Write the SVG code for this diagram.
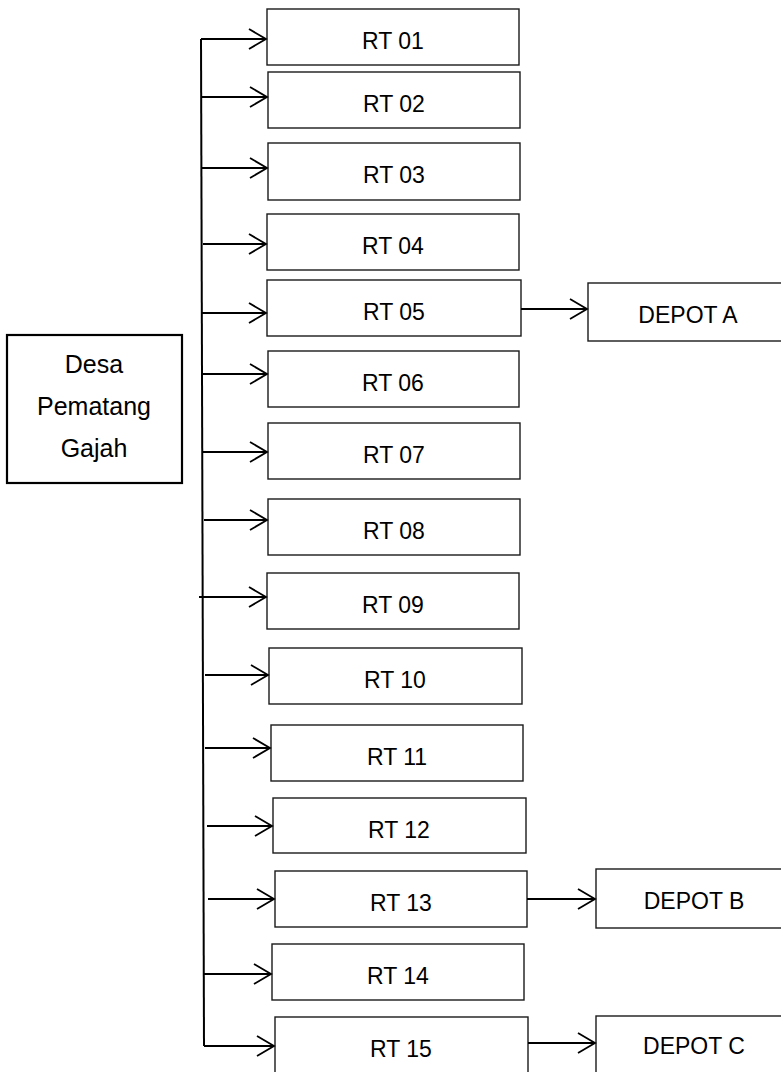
<svg xmlns="http://www.w3.org/2000/svg" width="781" height="1072" viewBox="0 0 781 1072">
<defs>
<marker id="chev" markerUnits="userSpaceOnUse" viewBox="-19 -12 21 24" refX="0" refY="0" markerWidth="21" markerHeight="24" orient="auto">
<path d="M-17,-10 L0,0 L-17,10" fill="none" stroke="#000" stroke-width="1.8"/>
</marker>
<style>
.box{fill:#fff;stroke:#1a1a1a;stroke-width:1.4}
.main{fill:#fff;stroke:#000;stroke-width:2.2}
.t{font-family:"Liberation Sans",Arial,sans-serif;font-size:23px;fill:#000;text-anchor:middle}
.tm{font-family:"Liberation Sans",Arial,sans-serif;font-size:25px;fill:#000;text-anchor:middle}
.c{stroke:#000;stroke-width:1.8;fill:none;marker-end:url(#chev)}
.trunk{stroke:#000;stroke-width:2;fill:none}
</style>
</defs>
<g id="desa">
<rect class="main" x="7" y="335" width="175" height="148"/>
<text class="tm" x="94" y="373">Desa</text>
<text class="tm" x="94" y="415">Pematang</text>
<text class="tm" x="94" y="457">Gajah</text>
</g>
<g id="rt01"><rect class="box" x="267" y="9" width="252" height="56"/><text class="t" x="393" y="49">RT 01</text></g>
<g id="rt02"><rect class="box" x="268" y="72" width="252" height="56"/><text class="t" x="394" y="112">RT 02</text></g>
<g id="rt03"><rect class="box" x="268" y="143" width="252" height="57"/><text class="t" x="394" y="183">RT 03</text></g>
<g id="rt04"><rect class="box" x="267" y="214" width="252" height="56"/><text class="t" x="393" y="254">RT 04</text></g>
<g id="rt05"><rect class="box" x="267" y="280" width="254" height="56"/><text class="t" x="394" y="320">RT 05</text></g>
<g id="rt06"><rect class="box" x="268" y="351" width="251" height="56"/><text class="t" x="393" y="391">RT 06</text></g>
<g id="rt07"><rect class="box" x="268" y="423" width="252" height="56"/><text class="t" x="394" y="463">RT 07</text></g>
<g id="rt08"><rect class="box" x="268" y="499" width="252" height="56"/><text class="t" x="394" y="539">RT 08</text></g>
<g id="rt09"><rect class="box" x="267" y="573" width="252" height="56"/><text class="t" x="393" y="613">RT 09</text></g>
<g id="rt10"><rect class="box" x="269" y="648" width="253" height="56"/><text class="t" x="395" y="688">RT 10</text></g>
<g id="rt11"><rect class="box" x="271" y="725" width="252" height="56"/><text class="t" x="397" y="765">RT 11</text></g>
<g id="rt12"><rect class="box" x="273" y="798" width="253" height="55"/><text class="t" x="399" y="838">RT 12</text></g>
<g id="rt13"><rect class="box" x="275" y="871" width="252" height="56"/><text class="t" x="401" y="911">RT 13</text></g>
<g id="rt14"><rect class="box" x="272" y="944" width="252" height="56"/><text class="t" x="398" y="984">RT 14</text></g>
<g id="rt15"><rect class="box" x="275" y="1017" width="253" height="62"/><text class="t" x="401" y="1057">RT 15</text></g>
<g id="depotA"><rect class="box" x="588" y="283" width="200" height="58"/><text class="t" x="688" y="323">DEPOT A</text></g>
<g id="depotB"><rect class="box" x="596" y="869" width="200" height="59"/><text class="t" x="694" y="909">DEPOT B</text></g>
<g id="depotC"><rect class="box" x="596" y="1016" width="200" height="62"/><text class="t" x="694" y="1054">DEPOT C</text></g>
<g id="connectors">
<path class="trunk" d="M201,39 L204,1046"/>
<path class="c" d="M201,39 H266"/>
<path class="c" d="M201,97 H267"/>
<path class="c" d="M201,168 H267"/>
<path class="c" d="M203,244 H266"/>
<path class="c" d="M202,313 H266"/>
<path class="c" d="M203,374 H267"/>
<path class="c" d="M203,452 H267"/>
<path class="c" d="M204,520 H267"/>
<path class="c" d="M199,597 H266"/>
<path class="c" d="M205,675 H268"/>
<path class="c" d="M205,748 H270"/>
<path class="c" d="M207,826 H272"/>
<path class="c" d="M208,899 H274"/>
<path class="c" d="M204,974 H271"/>
<path class="c" d="M204,1046 H274"/>
<path class="c" d="M521,309 H587"/>
<path class="c" d="M527,899 H595"/>
<path class="c" d="M528,1043 H595"/>
</g>
</svg>
